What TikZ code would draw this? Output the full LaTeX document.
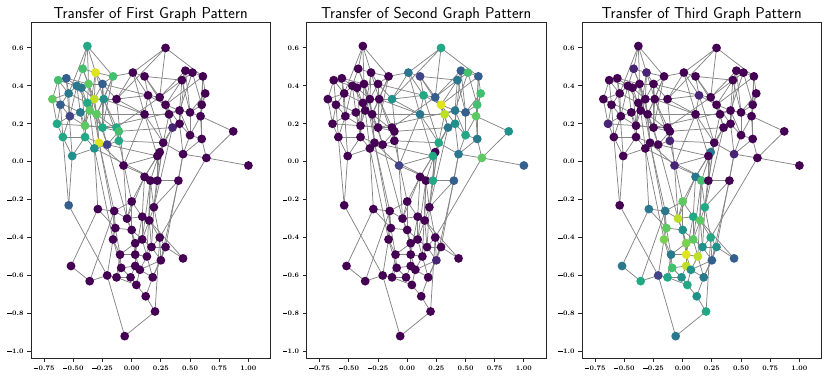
\documentclass[tikz,border=0pt]{standalone}
\usetikzlibrary{backgrounds}

% viridis levels
\definecolor{vir0}{HTML}{440154}
\definecolor{vir1}{HTML}{482475}
\definecolor{vir2}{HTML}{414487}
\definecolor{vir3}{HTML}{355F8D}
\definecolor{vir4}{HTML}{2A788E}
\definecolor{vir5}{HTML}{21918C}
\definecolor{vir6}{HTML}{22A884}
\definecolor{vir7}{HTML}{44BF70}
\definecolor{vir75}{HTML}{5EC962}
\definecolor{vir8}{HTML}{7AD151}
\definecolor{vir9}{HTML}{BDDF26}
\definecolor{vir10}{HTML}{E0E41A}

\newcommand{\tickminus}{\rule[0.24em]{0.62em}{0.09em}\kern0.06em}

% x/y/colour in first, second, third panel
\newcommand{\graphnodes}{%
-0.38/0.61/vir6/vir0/vir0, -0.42/0.49/vir7/vir0/vir1, -0.31/0.47/vir10/vir0/vir1,
-0.16/0.45/vir7/vir0/vir0, -0.63/0.43/vir7/vir0/vir0, -0.56/0.44/vir3/vir0/vir0,
-0.47/0.40/vir4/vir0/vir0, -0.43/0.39/vir4/vir0/vir0, -0.37/0.41/vir75/vir0/vir0,
-0.25/0.41/vir3/vir0/vir0, -0.68/0.33/vir75/vir0/vir0, -0.54/0.36/vir4/vir0/vir0,
-0.61/0.30/vir3/vir0/vir0, -0.32/0.33/vir9/vir0/vir0, -0.38/0.31/vir6/vir0/vir0,
-0.24/0.33/vir5/vir0/vir0, -0.13/0.33/vir0/vir5/vir0, -0.44/0.26/vir4/vir0/vir0,
-0.36/0.27/vir75/vir0/vir0, -0.30/0.25/vir75/vir0/vir0, -0.53/0.24/vir2/vir0/vir0,
-0.64/0.20/vir6/vir0/vir1, -0.40/0.19/vir75/vir0/vir0, -0.25/0.18/vir6/vir0/vir0,
-0.13/0.18/vir6/vir0/vir0, -0.11/0.16/vir7/vir0/vir0, -0.59/0.13/vir6/vir0/vir0,
-0.40/0.13/vir6/vir0/vir0, -0.28/0.10/vir10/vir0/vir0, -0.21/0.09/vir2/vir0/vir0,
-0.11/0.11/vir6/vir0/vir1, -0.51/0.03/vir5/vir0/vir0, -0.32/0.07/vir5/vir0/vir0,
-0.54/-0.23/vir3/vir0/vir0, 0.29/0.60/vir0/vir6/vir0, 0.01/0.47/vir0/vir4/vir0,
0.11/0.45/vir0/vir2/vir0, 0.46/0.48/vir0/vir3/vir0, 0.52/0.47/vir0/vir7/vir0,
0.61/0.45/vir0/vir3/vir0, 0.43/0.43/vir0/vir4/vir0, 0.14/0.35/vir0/vir6/vir1,
0.24/0.34/vir0/vir3/vir0, 0.29/0.30/vir0/vir10/vir0, 0.32/0.25/vir0/vir9/vir0,
0.63/0.36/vir0/vir7/vir0, 0.41/0.27/vir0/vir4/vir0, 0.50/0.26/vir0/vir3/vir0,
0.60/0.30/vir0/vir7/vir0, 0.11/0.25/vir0/vir4/vir0, 0.59/0.24/vir0/vir75/vir0,
0.35/0.18/vir1/vir4/vir0, 0.41/0.20/vir0/vir5/vir0, 0.50/0.14/vir0/vir6/vir0,
0.60/0.12/vir0/vir4/vir0, 0.87/0.16/vir0/vir5/vir0, 0.27/0.10/vir0/vir6/vir0,
0.24/0.05/vir0/vir0/vir4, 0.22/0.03/vir0/vir6/vir0, 0.44/0.04/vir0/vir4/vir1,
0.64/0.02/vir0/vir75/vir0, 1.00/-0.02/vir0/vir3/vir0, -0.07/-0.02/vir0/vir2/vir1,
0.11/-0.08/vir0/vir0/vir4, 0.16/-0.10/vir0/vir0/vir7, 0.22/-0.10/vir0/vir6/vir0,
0.40/-0.10/vir0/vir3/vir0, 0.00/-0.21/vir0/vir0/vir75, -0.29/-0.25/vir0/vir0/vir4,
-0.15/-0.26/vir0/vir0/vir4, 0.19/-0.24/vir0/vir0/vir6, -0.04/-0.30/vir0/vir0/vir9,
0.09/-0.29/vir0/vir0/vir6, 0.15/-0.31/vir0/vir0/vir75, -0.14/-0.35/vir0/vir0/vir75,
0.00/-0.36/vir0/vir0/vir5, 0.24/-0.40/vir0/vir0/vir6, -0.16/-0.41/vir0/vir0/vir8,
0.09/-0.41/vir0/vir0/vir75, 0.03/-0.43/vir0/vir0/vir8, 0.17/-0.45/vir0/vir0/vir5,
0.29/-0.45/vir0/vir0/vir5, -0.10/-0.49/vir0/vir0/vir4, 0.03/-0.49/vir0/vir0/vir10,
0.13/-0.50/vir0/vir0/vir9, 0.44/-0.51/vir0/vir0/vir3, 0.25/-0.52/vir0/vir1/vir3,
0.03/-0.55/vir0/vir0/vir9, -0.09/-0.56/vir0/vir0/vir7, 0.07/-0.57/vir0/vir0/vir5,
-0.52/-0.55/vir0/vir0/vir4, -0.21/-0.60/vir0/vir0/vir2, -0.13/-0.61/vir0/vir0/vir6,
-0.01/-0.61/vir0/vir0/vir5, 0.18/-0.61/vir0/vir0/vir4, -0.36/-0.63/vir0/vir0/vir6,
0.04/-0.65/vir0/vir0/vir6, 0.12/-0.71/vir0/vir0/vir5, 0.20/-0.79/vir0/vir0/vir6,
-0.06/-0.92/vir0/vir0/vir4}

\newcommand{\graphedges}{%
1/2,1/3,1/4,1/9,1/12,2/3,2/7,2/9,2/14,3/4,3/10,3/14,3/16,3/19,4/10,4/16,4/20,4/24,
5/6,5/11,5/13,5/12,5/8,6/7,6/12,6/9,6/32,7/8,7/12,7/15,7/18,7/21,8/9,8/14,8/19,8/23,
9/10,9/15,9/20,9/29,10/14,10/16,10/24,11/13,11/22,11/18,11/12,12/13,12/21,12/15,
13/21,13/22,13/27,14/15,14/16,14/19,14/20,14/29,15/19,15/23,15/28,16/20,16/24,16/25,
16/31,18/19,18/21,18/23,18/28,19/20,19/23,19/24,19/33,20/24,20/26,20/29,20/30,
21/22,21/27,21/23,22/27,22/23,23/28,23/24,23/25,24/25,24/26,24/30,25/26,25/31,
26/31,26/30,27/28,27/32,27/34,28/29,28/33,28/32,29/30,29/33,30/31,30/33,32/33,32/34,
35/36,35/43,35/40,35/17,36/37,36/42,36/50,36/17,37/42,37/43,37/41,37/45,
38/39,38/41,38/43,38/48,38/53,39/40,39/41,39/47,39/49,40/46,40/49,40/51,40/44,
41/43,41/44,41/47,41/48,42/43,42/44,42/50,42/57,43/44,43/45,44/45,44/47,44/52,44/53,
45/47,45/52,45/57,46/49,46/51,46/48,47/48,47/53,47/54,48/49,48/51,48/54,49/51,49/55,
50/57,50/59,50/17,50/63,51/55,51/54,51/56,52/53,52/57,52/59,53/54,53/60,54/55,54/60,
55/60,55/61,56/61,57/59,57/60,57/66,59/66,59/63,60/67,60/61,61/62,63/17,63/66,66/67,
17/42,58/64,58/65,58/71,64/65,64/68,64/73,64/72,65/71,65/74,65/79,65/85,
68/72,68/70,68/73,68/76,69/70,69/91,69/75,70/72,70/75,70/78,71/74,71/77,71/81,
72/73,72/76,72/80,73/74,73/79,73/84,74/79,74/81,74/77,75/76,75/78,75/83,
76/80,76/84,76/79,77/81,77/82,77/87,77/99,78/83,78/89,78/92,79/80,79/85,79/81,
80/84,80/88,80/83,81/85,81/87,81/82,82/86,82/87,82/95,83/89,83/84,83/93,
84/85,84/88,84/90,85/90,85/95,87/95,87/90,88/89,88/90,88/94,89/93,89/94,
90/97,90/95,91/96,92/93,92/96,92/100,93/94,93/97,94/97,95/98,97/98,98/99,99/100,
96/70,86/74,4/36,10/42,16/50,25/43,26/52,31/57,24/47,20/45,30/59,29/63,33/66,
17/10,17/16,33/69,29/70,30/72,31/68,34/92,33/78,29/75,61/77,60/82,67/87,59/64,
57/71,63/72,52/71,66/65,67/71}

\begin{document}
\begin{tikzpicture}[x=1pt,y=1pt,
  vnode/.style={circle, inner sep=0pt, minimum size=8.8pt},
  edge/.style={draw=black!48, line width=0.75pt},
  frame/.style={draw=black!85, line width=0.9pt},
  ticklab/.style={font=\fontsize{6.9}{8}\selectfont\bfseries, inner sep=0pt},
  title/.style={font=\fontsize{15.8}{18}\selectfont\sffamily, inner sep=0pt}]
\useasboundingbox (0,0) rectangle (830,378);
\foreach \k/\name in {1/First,2/Second,3/Third}{
\begin{scope}[shift={(131.7+275.5*\k-275.5,216.3)}, x=116.7pt, y=189.6pt]
  \draw[frame] (-0.863,-1.0385) rectangle (1.189,0.733);
  \node[title, anchor=base] (title\k) at ([yshift=4.6pt]0.163,0.733) {Transfer of \name\ Graph Pattern};
  % ticks
  \foreach \t/\lab in {-0.75/\tickminus0.75,-0.5/\tickminus0.50,-0.25/\tickminus0.25,0/0.00,0.25/0.25,0.5/0.50,0.75/0.75,1/1.00}
    \draw[frame] (\t,-1.0385) -- ++(0,-3.5pt) node[ticklab, anchor=north, yshift=-3.5pt] {\lab};
  \foreach \t/\lab in {-1/\tickminus1.0,-0.8/\tickminus0.8,-0.6/\tickminus0.6,-0.4/\tickminus0.4,-0.2/\tickminus0.2,0/0.0,0.2/0.2,0.4/0.4,0.6/0.6}
    \draw[frame] (-0.863,\t) -- ++(-3.5pt,0) node[ticklab, anchor=east, xshift=-3.5pt] {\lab};
  % graph
  \foreach \x/\y/\ca/\cb/\cc [count=\i] in \graphnodes {
    \ifcase\k\or\def\col{\ca}\or\def\col{\cb}\or\def\col{\cc}\fi
    \node[vnode, fill=\col] (n\k-\i) at (\x,\y) {};
  }
  \begin{pgfonlayer}{background}
    \foreach \a/\b in \graphedges
      \draw[edge] (n\k-\a.center) -- (n\k-\b.center);
  \end{pgfonlayer}
\end{scope}
}
\end{tikzpicture}
\end{document}
